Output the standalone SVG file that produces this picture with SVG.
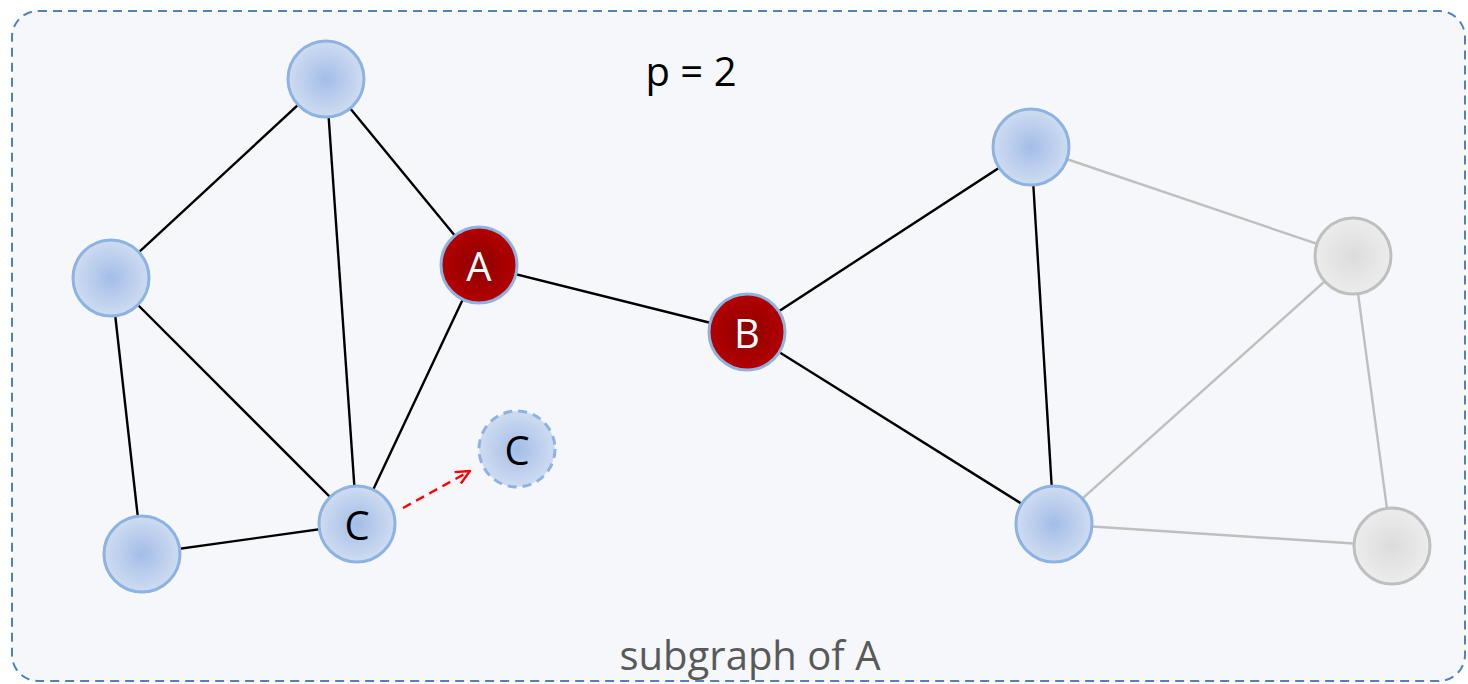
<svg xmlns="http://www.w3.org/2000/svg" width="1468" height="684" viewBox="0 0 1468 684">
<defs>
<radialGradient id="gBlue" cx="50%" cy="50%" r="50%">
<stop offset="0" stop-color="#a3bde8"/>
<stop offset="1" stop-color="#cfdcf1"/>
</radialGradient>
<radialGradient id="gRed" cx="50%" cy="50%" r="50%">
<stop offset="0" stop-color="#8e0000"/>
<stop offset="1" stop-color="#b40000"/>
</radialGradient>
<radialGradient id="gGray" cx="50%" cy="50%" r="50%">
<stop offset="0" stop-color="#dcdcdc"/>
<stop offset="1" stop-color="#ececec"/>
</radialGradient>
<marker id="arr" viewBox="0 0 16 16" refX="15" refY="8" markerWidth="16" markerHeight="16" markerUnits="userSpaceOnUse" orient="auto">
<path d="M1,1.5 L15,8 L1,14.5" fill="none" stroke="#ff0000" stroke-width="2.4"/>
</marker>
<style>
.blue{fill:url(#gBlue);stroke:#8db3e2;stroke-width:3}
.red{fill:url(#gRed);stroke:#8db3e2;stroke-width:3}
.gray{fill:url(#gGray);stroke:#bfbfbf;stroke-width:3}
.dash{fill:url(#gBlue);stroke:#8db3e2;stroke-width:3;stroke-dasharray:9 6}
.e{stroke:#000;stroke-width:2.4;fill:none}
.eg{stroke:#bfbfbf;stroke-width:2.4;fill:none}
.lbl{font-family:"Open Sans","Liberation Sans",sans-serif;font-size:40px;text-anchor:middle;dominant-baseline:central}
</style>
</defs>
<rect x="12" y="11" width="1453" height="670" rx="26" ry="26" fill="#f5f7fb" stroke="#4f81bd" stroke-width="2" stroke-dasharray="9 6"/>
<text x="691" y="70" font-family="'Open Sans','Liberation Sans',sans-serif" font-size="40" fill="#000" text-anchor="middle" dominant-baseline="central">p = 2</text>
<text x="750" y="654" font-family="'Open Sans','Liberation Sans',sans-serif" font-size="40" fill="#595959" text-anchor="middle" dominant-baseline="central">subgraph of A</text>
<g id="connectors">
<line class="e" x1="326" y1="79" x2="111" y2="278"/>
<line class="e" x1="326" y1="79" x2="357" y2="524"/>
<line class="e" x1="326" y1="79" x2="479" y2="265"/>
<line class="e" x1="111" y1="278" x2="357" y2="524"/>
<line class="e" x1="111" y1="278" x2="142" y2="554"/>
<line class="e" x1="142" y1="554" x2="357" y2="524"/>
<line class="e" x1="357" y1="524" x2="479" y2="265"/>
<line class="e" x1="479" y1="265" x2="747" y2="332"/>
<line class="e" x1="747" y1="332" x2="1031" y2="147"/>
<line class="e" x1="747" y1="332" x2="1054" y2="524"/>
<line class="e" x1="1031" y1="147" x2="1054" y2="524"/>
<line class="eg" x1="1031" y1="147" x2="1353" y2="256"/>
<line class="eg" x1="1054" y1="524" x2="1353" y2="256"/>
<line class="eg" x1="1054" y1="524" x2="1392" y2="546"/>
<line class="eg" x1="1353" y1="256" x2="1392" y2="546"/>
<line x1="403" y1="508" x2="470" y2="471" stroke="#ff0000" stroke-width="2.4" stroke-dasharray="9 6" marker-end="url(#arr)"/>
</g>
<g id="n-top"><circle class="blue" cx="326" cy="79" r="38"/></g>
<g id="n-left"><circle class="blue" cx="111" cy="278" r="38"/></g>
<g id="n-bl"><circle class="blue" cx="142" cy="554" r="38"/></g>
<g id="n-c"><circle class="blue" cx="357" cy="524" r="38"/><text class="lbl" x="357" y="524" fill="#000">C</text></g>
<g id="n-a"><circle class="red" cx="479" cy="265" r="38"/><text class="lbl" x="479" y="265" fill="#fff">A</text></g>
<g id="n-b"><circle class="red" cx="747" cy="332" r="38"/><text class="lbl" x="747" y="332" fill="#fff">B</text></g>
<g id="n-c2"><circle class="dash" cx="517" cy="449" r="38"/><text class="lbl" x="517" y="449" fill="#000">C</text></g>
<g id="n-rt"><circle class="blue" cx="1031" cy="147" r="38"/></g>
<g id="n-rb"><circle class="blue" cx="1054" cy="524" r="38"/></g>
<g id="n-g1"><circle class="gray" cx="1353" cy="256" r="38"/></g>
<g id="n-g2"><circle class="gray" cx="1392" cy="546" r="38"/></g>
</svg>
